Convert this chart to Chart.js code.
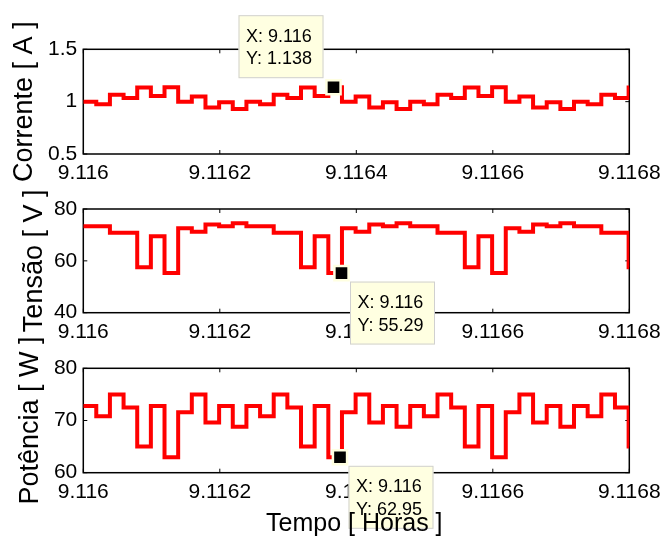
<!DOCTYPE html>
<html>
<head>
<meta charset="utf-8">
<script src="https://cdn.jsdelivr.net/npm/chart.js@4.4.0/dist/chart.umd.min.js"></script>
<style>
  html, body { margin: 0; background: #fff; }
  #wrap { position: relative; width: 667px; height: 536px; }
  #wrap canvas { position: absolute; left: 0; top: 0; }
</style>
</head>
<body>
<div id="wrap">
  <canvas id="corrente" width="667" height="536"></canvas>
  <canvas id="tensao" width="667" height="536"></canvas>
  <canvas id="potencia" width="667" height="536"></canvas>
</div>
<script>
// Start time of each step (hours), last value closes the final step
const tempo = [
  9.116, 9.116019, 9.116039, 9.116059, 9.116079, 9.116099, 9.116119, 9.116139,
  9.116159, 9.116179, 9.116199, 9.116219, 9.116239, 9.116259, 9.116279, 9.116299,
  9.116319, 9.116339, 9.116359, 9.116379, 9.116399, 9.116419, 9.116439, 9.116459,
  9.116479, 9.116499, 9.116519, 9.116539, 9.116559, 9.116579, 9.116599, 9.116619,
  9.116639, 9.116659, 9.116679, 9.116699, 9.116719, 9.116739, 9.116759, 9.116779,
  9.116799, 9.1168
];

// Corrente [ A ]
const corrente = [
  1.0, 0.975, 1.065, 1.035, 1.135, 1.055, 1.138, 1.0, 1.05, 0.945, 0.995, 0.93,
  1.0, 0.975, 1.065, 1.035, 1.135, 1.055, 1.138, 1.0, 1.05, 0.945, 0.995, 0.93,
  1.0, 0.975, 1.065, 1.035, 1.135, 1.055, 1.138, 1.0, 1.05, 0.945, 0.995, 0.93,
  1.0, 0.975, 1.065, 1.035, 1.135, 1.135
];

// Tensão [ V ]
const tensao = [
  73.3, 73.3, 70.8, 70.8, 57.5, 69.5, 55.29, 72.6, 71.2, 74.0, 73.3, 74.5,
  73.3, 73.3, 70.8, 70.8, 57.5, 69.5, 55.29, 72.6, 71.2, 74.0, 73.3, 74.5,
  73.3, 73.3, 70.8, 70.8, 57.5, 69.5, 55.29, 72.6, 71.2, 74.0, 73.3, 74.5,
  73.3, 73.3, 70.8, 70.8, 57.5, 57.5
];

// Potência [ W ]
const potencia = [
  72.8, 70.8, 75.0, 72.5, 65.0, 72.8, 62.95, 71.6, 75.0, 69.6, 72.8, 68.8,
  72.8, 70.8, 75.0, 72.5, 65.0, 72.8, 62.95, 71.6, 75.0, 69.6, 72.8, 68.8,
  72.8, 70.8, 75.0, 72.5, 65.0, 72.8, 62.95, 71.6, 75.0, 69.6, 72.8, 68.8,
  72.8, 70.8, 75.0, 72.5, 65.0, 65.0
];

// Tick values and labels
const xTicks = [9.116, 9.1162, 9.1164, 9.1166, 9.1168];
const xTickLabels = ['9.116', '9.1162', '9.1164', '9.1166', '9.1168'];
const correnteTicks = [0.5, 1, 1.5];
const correnteTickLabels = ['0.5', '1', '1.5'];
const tensaoTicks = [40, 60, 80];
const tensaoTickLabels = ['40', '60', '80'];
const potenciaTicks = [60, 70, 80];
const potenciaTickLabels = ['60', '70', '80'];

// Data tips (marker position and text)
const dicaCorrente = [9.1163666, 1.138];
const dicaTensao = [9.1163783, 55.29];
const dicaPotencia = [9.1163761, 62.95];
const textoCorrente = ['X: 9.116', 'Y: 1.138'];
const textoTensao = ['X: 9.116', 'Y: 55.29'];
const textoPotencia = ['X: 9.116', 'Y: 62.95'];

const FONTE = '"Liberation Sans", Arial, Helvetica, sans-serif';

// Axes box with small inward ticks (MATLAB style)
const moldura = {
    id: 'moldura',
    beforeDatasetsDraw(chart) {
        const {ctx, chartArea: a, scales} = chart;
        ctx.save();
        ctx.strokeStyle = '#000';
        ctx.lineWidth = 1.5;
        ctx.strokeRect(a.left, a.top, a.right - a.left, a.bottom - a.top);
        ctx.lineWidth = 1;
        ctx.beginPath();
        scales.x.ticks.forEach(t => {
            const px = scales.x.getPixelForValue(t.value);
            ctx.moveTo(px, a.bottom); ctx.lineTo(px, a.bottom - 4);
            ctx.moveTo(px, a.top); ctx.lineTo(px, a.top + 4);
        });
        scales.y.ticks.forEach(t => {
            const py = scales.y.getPixelForValue(t.value);
            ctx.moveTo(a.left, py); ctx.lineTo(a.left + 4, py);
            ctx.moveTo(a.right, py); ctx.lineTo(a.right - 4, py);
        });
        ctx.stroke();
        ctx.restore();
    }
};

// Yellow data tip box next to the marker
const dica = {
    id: 'dica',
    afterDatasetsDraw(chart, args, opts) {
        const {ctx, scales} = chart;
        const mx = scales.x.getPixelForValue(opts.ponto[0]);
        const my = scales.y.getPixelForValue(opts.ponto[1]);
        const w = 85, h = 63;
        const bx = opts.acima ? mx - 10 - w : mx + 8.5;
        const by = opts.acima ? my - 9 - h : my + 8.5;
        ctx.save();
        ctx.fillStyle = '#ffffe1';
        ctx.fillRect(bx, by, w, h);
        ctx.strokeStyle = '#d0d0d0';
        ctx.lineWidth = 1;
        ctx.strokeRect(bx + 0.5, by + 0.5, w - 1, h - 1);
        ctx.fillStyle = '#000';
        ctx.font = '18px ' + FONTE;
        ctx.textBaseline = 'middle';
        ctx.fillText(opts.texto[0], bx + 7.5, by + 21.5);
        ctx.fillText(opts.texto[1], bx + 7.5, by + 44);
        ctx.restore();
    }
};

// Axis titles (drawn last so the x title sits over the data tip)
const rotulos = {
    id: 'rotulos',
    afterDraw(chart, args, opts) {
        const {ctx, chartArea: a} = chart;
        ctx.save();
        ctx.fillStyle = '#000';
        ctx.textAlign = 'center';
        ctx.textBaseline = 'alphabetic';
        ctx.font = '27px ' + FONTE;
        ctx.translate(opts.yBase, (a.top + a.bottom) / 2);
        ctx.rotate(-Math.PI / 2);
        ctx.fillText(opts.tituloY, 0, 0);
        ctx.restore();
        if (opts.tituloX) {
            ctx.save();
            ctx.fillStyle = '#000';
            ctx.textAlign = 'center';
            ctx.font = '25px ' + FONTE;
            ctx.fillText(opts.tituloX, (a.left + a.right) / 2 - 2, a.bottom + 58);
            ctx.restore();
        }
    }
};

function criarGrafico(id, valores, yMin, yMax, yTicks, yTickLabels, ponto, texto, acima, topo, base, tituloY, yBase, tituloX) {
    return new Chart(document.getElementById(id), {
        type: 'line',
        data: {
            datasets: [{
                data: [{x: ponto[0], y: ponto[1]}],
                showLine: false,
                pointStyle: 'rect',
                pointRadius: 10,
                pointBackgroundColor: '#000',
                pointBorderColor: '#ffffe1',
                pointBorderWidth: 2.5,
                order: 0
            }, {
                data: tempo.map((t, i) => ({x: t, y: valores[i]})),
                borderColor: '#ff0000',
                borderWidth: 4,
                borderJoinStyle: 'miter',
                stepped: true,
                pointRadius: 0,
                fill: false,
                order: 1
            }]
        },
        plugins: [moldura, dica, rotulos],
        options: {
            responsive: false,
            animation: false,
            events: [],
            layout: {
                padding: {left: 0, right: 37.7, top: topo, bottom: 536 - base - 63.3}
            },
            plugins: {
                legend: {display: false},
                tooltip: {enabled: false},
                dica: {ponto: ponto, texto: texto, acima: acima},
                rotulos: {tituloY: tituloY, yBase: yBase, tituloX: tituloX}
            },
            scales: {
                x: {
                    type: 'linear',
                    position: 'bottom',
                    min: xTicks[0],
                    max: xTicks[xTicks.length - 1],
                    grid: {display: false, drawTicks: false},
                    border: {display: false},
                    afterBuildTicks: s => { s.ticks = xTicks.map(v => ({value: v})); },
                    afterFit: s => {
                        s.height = 63.3;
                        s.paddingLeft = 0; s.paddingRight = 0;
                        s.paddingTop = 0; s.paddingBottom = 0;
                    },
                    ticks: {
                        autoSkip: false,
                        maxRotation: 0,
                        padding: 7,
                        color: '#000',
                        font: {family: FONTE, size: 21},
                        callback: (v, i) => xTickLabels[i]
                    }
                },
                y: {
                    position: 'left',
                    min: yMin,
                    max: yMax,
                    grid: {display: false, drawTicks: false},
                    border: {display: false},
                    afterBuildTicks: s => { s.ticks = yTicks.map(v => ({value: v})); },
                    afterFit: s => {
                        s.width = 83.3;
                        s.paddingLeft = 0; s.paddingRight = 0;
                        s.paddingTop = 0; s.paddingBottom = 0;
                    },
                    ticks: {
                        padding: 6,
                        color: '#000',
                        font: {family: FONTE, size: 21},
                        callback: (v, i) => yTickLabels[i]
                    }
                }
            }
        }
    });
}

document.addEventListener('DOMContentLoaded', function() {
    criarGrafico('corrente', corrente, 0.5, 1.5, correnteTicks, correnteTickLabels,
        dicaCorrente, textoCorrente, true, 49.3, 154, 'Corrente [ A ]', 31.7, null);
    criarGrafico('tensao', tensao, 40, 80, tensaoTicks, tensaoTickLabels,
        dicaTensao, textoTensao, false, 209, 312.7, 'Tensão [ V ]', 41.7, null);
    criarGrafico('potencia', potencia, 60, 80, potenciaTicks, potenciaTickLabels,
        dicaPotencia, textoPotencia, false, 368.3, 472.7, 'Potência [ W ]', 38.3, 'Tempo [ Horas ]');
});
</script>
</body>
</html>
